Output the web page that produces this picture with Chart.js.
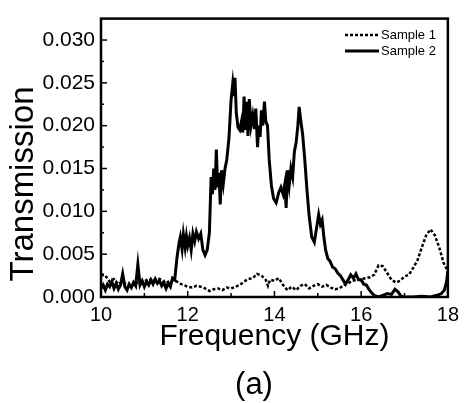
<!DOCTYPE html>
<html>
<head>
<meta charset="utf-8">
<script src="https://cdn.jsdelivr.net/npm/chart.js@4"></script>
<style>
  body { margin: 0; background: #fff; }
</style>
</head>
<body>
<canvas id="chart" width="465" height="403"></canvas>
<script>
// Sample 1 (dashed)
const freq1 = [10.0, 10.1, 10.2, 10.3, 10.4, 10.5, 10.6, 10.7, 10.8, 10.9, 11.0, 11.1, 11.2, 11.3, 11.4, 11.5, 11.6, 11.7, 11.8, 11.9,
  12.0, 12.1, 12.2, 12.3, 12.4, 12.5, 12.6, 12.7, 12.8, 12.9, 13.0, 13.1, 13.2, 13.3, 13.4, 13.5, 13.6, 13.7, 13.8, 13.85, 13.9,
  14.0, 14.1, 14.2, 14.3, 14.4, 14.5, 14.6, 14.7, 14.8, 14.9, 15.0, 15.1, 15.2, 15.3, 15.4, 15.5, 15.6, 15.7, 15.8, 15.9,
  16.0, 16.1, 16.2, 16.3, 16.4, 16.5, 16.6, 16.7, 16.8, 16.9, 17.0, 17.1, 17.2, 17.3, 17.4, 17.5, 17.6, 17.7, 17.8, 17.9, 18.0];
const trans1 = [0.0027, 0.0025, 0.0018, 0.0021, 0.0015, 0.0018, 0.0014, 0.0012, 0.0017, 0.0016, 0.0018, 0.0021, 0.0019, 0.0022, 0.0020, 0.0016, 0.0019, 0.0020, 0.0016, 0.0014,
  0.0012, 0.0011, 0.0013, 0.0012, 0.0010, 0.0007, 0.0009, 0.0010, 0.0008, 0.0011, 0.0010, 0.0012, 0.0014, 0.0018, 0.0021, 0.0022, 0.0027, 0.0025, 0.0020, 0.0013, 0.0020,
  0.0019, 0.0022, 0.0014, 0.0008, 0.0012, 0.0008, 0.0013, 0.0015, 0.0010, 0.0013, 0.0015, 0.0012, 0.0014, 0.0011, 0.0009, 0.0010, 0.0014, 0.0016, 0.0019, 0.0020,
  0.0021, 0.0022, 0.0023, 0.0026, 0.0037, 0.0036, 0.0028, 0.0020, 0.0017, 0.0019, 0.0024, 0.0026, 0.0034, 0.0043, 0.0058, 0.0072, 0.0079, 0.0072, 0.0058, 0.0040, 0.0030];

// Sample 2 (solid)
const freq2 = [10.0, 10.05, 10.1, 10.15, 10.2, 10.25, 10.3, 10.35, 10.4, 10.45, 10.5, 10.55, 10.6, 10.65, 10.7, 10.75, 10.8, 10.85, 10.9, 10.95,
  11.0, 11.05, 11.1, 11.15, 11.2, 11.25, 11.3, 11.35, 11.4, 11.45, 11.5, 11.55, 11.6, 11.65, 11.7, 11.75, 11.8, 11.83, 11.87, 11.9, 11.94, 11.97,
  12.0, 12.04, 12.08, 12.12, 12.16, 12.2, 12.25, 12.3, 12.35, 12.4, 12.45, 12.5, 12.54, 12.57, 12.6, 12.63, 12.66, 12.69, 12.72, 12.75, 12.78, 12.82, 12.86, 12.9, 12.95,
  13.0, 13.04, 13.07, 13.09, 13.12, 13.16, 13.2, 13.24, 13.27, 13.3, 13.33, 13.36, 13.39, 13.42, 13.46, 13.5, 13.54, 13.57, 13.61, 13.64, 13.67, 13.7, 13.73, 13.77, 13.8, 13.84, 13.88, 13.93, 13.98,
  14.04, 14.1, 14.15, 14.2, 14.24, 14.27, 14.3, 14.34, 14.38, 14.42, 14.46, 14.5, 14.54, 14.57, 14.61, 14.65, 14.7, 14.75, 14.8, 14.86, 14.92, 14.97,
  15.02, 15.06, 15.1, 15.14, 15.18, 15.23, 15.28, 15.34, 15.4, 15.46, 15.52, 15.58, 15.64, 15.7, 15.76, 15.82, 15.88, 15.94,
  16.0, 16.06, 16.12, 16.18, 16.24, 16.3, 16.4, 16.5, 16.6, 16.7, 16.78, 16.85, 16.92, 17.0, 17.2, 17.4, 17.6, 17.75, 17.85, 17.92, 17.97, 18.0];
const trans2 = [0.0010, 0.0014, 0.0008, 0.0015, 0.0012, 0.0018, 0.0010, 0.0016, 0.0009, 0.0014, 0.0027, 0.0012, 0.0008, 0.0015, 0.0011, 0.0017, 0.0013, 0.0038, 0.0014, 0.0019,
  0.0012, 0.0018, 0.0014, 0.0020, 0.0015, 0.0021, 0.0016, 0.0019, 0.0013, 0.0017, 0.0010, 0.0016, 0.0012, 0.0022, 0.0020, 0.0045, 0.0063, 0.0070, 0.0056, 0.0073, 0.0058, 0.0071,
  0.0060, 0.0069, 0.0055, 0.0074, 0.0065, 0.0076, 0.0068, 0.0074, 0.0055, 0.0049, 0.0055, 0.0075, 0.0140, 0.0120, 0.0150, 0.0125, 0.0172, 0.0128, 0.0145, 0.0108, 0.0148, 0.0132, 0.0150, 0.0160, 0.0185,
  0.0230, 0.0250, 0.0236, 0.0256, 0.0215, 0.0198, 0.0195, 0.0205, 0.0192, 0.0234, 0.0195, 0.0228, 0.0188, 0.0231, 0.0200, 0.0212, 0.0196, 0.0220, 0.0175, 0.0200, 0.0187, 0.0218, 0.0200, 0.0228, 0.0205, 0.0200, 0.0160, 0.0130, 0.0115,
  0.0110, 0.0122, 0.0128, 0.0120, 0.0132, 0.0104, 0.0148, 0.0130, 0.0150, 0.0140, 0.0170, 0.0180, 0.0200, 0.0222, 0.0205, 0.0190, 0.0160, 0.0125, 0.0095, 0.0070, 0.0064, 0.0080,
  0.0096, 0.0085, 0.0090, 0.0070, 0.0055, 0.0045, 0.0042, 0.0035, 0.0033, 0.0028, 0.0025, 0.0020, 0.0015, 0.0020, 0.0026, 0.0022, 0.0027, 0.0020,
  0.0020, 0.0015, 0.0014, 0.0009, 0.0005, 0.0002, 0.0000, 0.0002, 0.0004, 0.0003, 0.0009, 0.0006, 0.0001, 0.0000, 0.0000, 0.0001, 0.0000, 0.0002, 0.0004, 0.0008, 0.0018, 0.0030];

const seriesNames = ['Sample 1', 'Sample 2'];
const xTicks = [10, 12, 14, 16, 18];
const yTicks = [0, 0.005, 0.010, 0.015, 0.020, 0.025, 0.030];

const FONT = 'Liberation Sans, Arial, sans-serif';

function toPoints(xs, ys) {
  return xs.map((x, i) => ({ x: x, y: ys[i] }));
}

// frame, inward ticks, legend and extra labels
const decorPlugin = {
  id: 'decor',
  afterDraw(chart) {
    const { ctx, chartArea: a, scales } = chart;
    const xs = scales.x, ys = scales.y;
    ctx.save();
    ctx.strokeStyle = '#000';
    ctx.lineWidth = 2.5;
    ctx.strokeRect(a.left, a.top, a.right - a.left, a.bottom - a.top);

    // ticks pointing inward
    ctx.lineWidth = 1.5;
    for (let v = 0; v <= 0.0325; v += 0.0025) {
      const y = ys.getPixelForValue(v);
      const major = Math.round(v / 0.0025) % 2 === 0;
      ctx.beginPath();
      ctx.moveTo(a.left, y);
      ctx.lineTo(a.left + (major ? 6 : 3), y);
      ctx.stroke();
    }
    for (let v = 10; v <= 18; v += 1) {
      const x = xs.getPixelForValue(v);
      ctx.beginPath();
      ctx.moveTo(x, a.bottom);
      ctx.lineTo(x, a.bottom - (v % 2 === 0 ? 6 : 4));
      ctx.stroke();
    }

    // legend
    const ds = chart.data.datasets;
    ctx.font = '13px ' + FONT;
    ctx.fillStyle = '#000';
    ctx.textBaseline = 'middle';
    ds.forEach((d, i) => {
      const y = 35 + i * 16;
      ctx.lineWidth = d.borderWidth;
      ctx.setLineDash(d.borderDash || []);
      ctx.beginPath();
      ctx.moveTo(345, y);
      ctx.lineTo(379, y);
      ctx.stroke();
      ctx.setLineDash([]);
      ctx.fillText(d.label, 381, y);
    });

    // y axis title
    ctx.save();
    ctx.translate(24, 184);
    ctx.rotate(-Math.PI / 2);
    ctx.font = '33px ' + FONT;
    ctx.textAlign = 'center';
    ctx.fillText('Transmission', 0, 0);
    ctx.restore();

    // panel label
    ctx.font = '31px ' + FONT;
    ctx.textAlign = 'center';
    ctx.fillText('(a)', 254, 385);
    ctx.restore();
  }
};

new Chart(document.getElementById('chart'), {
  type: 'line',
  data: {
    datasets: [
      {
        label: seriesNames[0],
        data: toPoints(freq1, trans1),
        borderColor: '#000',
        borderWidth: 2.5,
        borderDash: [3, 2],
        pointRadius: 0,
        tension: 0
      },
      {
        label: seriesNames[1],
        data: toPoints(freq2, trans2),
        borderColor: '#000',
        borderWidth: 3,
        pointRadius: 0,
        tension: 0
      }
    ]
  },
  options: {
    responsive: false,
    animation: false,
    devicePixelRatio: 1,
    layout: { padding: { left: 0, right: 12, top: 12, bottom: 0 } },
    plugins: {
      legend: { display: false },
      tooltip: { enabled: false }
    },
    scales: {
      x: {
        type: 'linear',
        min: 10,
        max: 18,
        afterFit: (s) => { s.height = 106; },
        afterBuildTicks: (s) => { s.ticks = xTicks.map(v => ({ value: v })); },
        grid: { display: false, drawTicks: false },
        border: { display: false },
        ticks: { color: '#000', padding: 6, font: { family: FONT, size: 20 } },
        title: {
          display: true,
          text: 'Frequency (GHz)',
          color: '#000',
          font: { family: FONT, size: 30 },
          padding: { top: 0, bottom: 48 }
        }
      },
      y: {
        min: 0,
        max: 0.0325,
        afterFit: (s) => { s.width = 101; },
        afterBuildTicks: (s) => { s.ticks = yTicks.map(v => ({ value: v })); },
        grid: { display: false, drawTicks: false },
        border: { display: false },
        ticks: {
          color: '#000',
          padding: 6,
          font: { family: FONT, size: 21 },
          callback: (v) => v.toFixed(3)
        }
      }
    }
  },
  plugins: [decorPlugin]
});
</script>
</body>
</html>
